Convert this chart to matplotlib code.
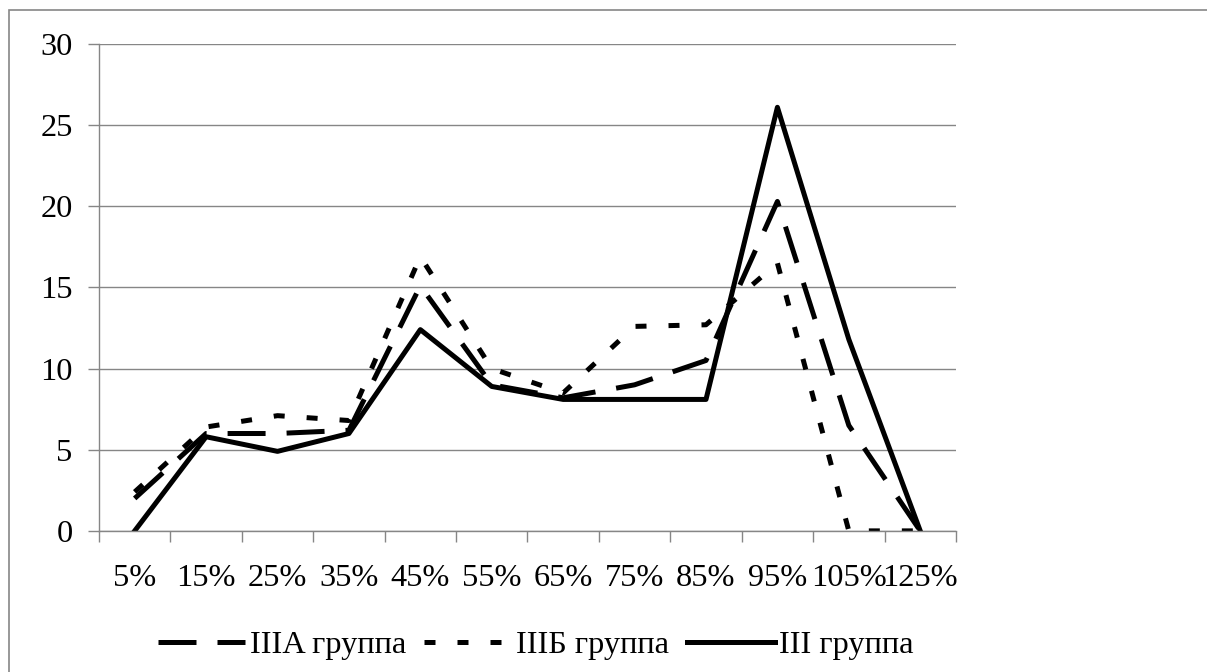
import matplotlib.pyplot as plt
from matplotlib.patches import Rectangle
from matplotlib.ticker import FixedLocator, NullFormatter

plt.rcParams['font.family'] = ['Liberation Serif', 'DejaVu Serif']

categories = ["5%", "15%", "25%", "35%", "45%", "55%", "65%", "75%", "85%", "95%", "105%", "125%"]
group_3a = [2.0, 6.0, 6.0, 6.2, 15.1, 9.0, 8.2, 9.0, 10.5, 20.3, 6.5, 0.0]
group_3b = [2.4, 6.4, 7.1, 6.8, 16.9, 10.0, 8.5, 12.6, 12.7, 16.5, 0.0, 0.0]
group_3 = [0.0, 5.8, 4.9, 6.0, 12.4, 8.9, 8.1, 8.1, 8.1, 26.1, 11.8, 0.0]
labels = ["IIIA группа", "IIIБ группа", "III группа"]

grey = "#868686"
fs = 23.3

fig = plt.figure(figsize=(12.07, 6.72), dpi=100)
ax = fig.add_axes([0.082, 0.210, 0.710, 0.7245])

x = list(range(len(categories)))
lw = 3.6
ax.plot(x, group_3a, color="black", linewidth=lw, dashes=(7.6, 4.2), label=labels[0])
ax.plot(x, group_3b, color="black", linewidth=lw, dashes=(2.2, 4.4), label=labels[1])
ax.plot(x, group_3, color="black", linewidth=lw, label=labels[2])

ax.set_xlim(-0.5, len(categories) - 0.5)
ax.set_ylim(0, 30)
ax.set_yticks(range(0, 31, 5))
ax.yaxis.grid(True, color=grey, linewidth=1.0)
ax.set_axisbelow(True)

# category boundaries carry the tick marks, labels sit at the centres
ax.xaxis.set_major_locator(FixedLocator([i - 0.5 for i in range(len(categories) + 1)]))
ax.xaxis.set_major_formatter(NullFormatter())
ax.xaxis.set_minor_locator(FixedLocator(x))
ax.set_xticklabels(categories, minor=True)
ax.tick_params(axis="x", which="major", direction="out", length=8, color=grey, width=1)
ax.tick_params(axis="x", which="minor", length=0, pad=24, labelsize=fs)
ax.tick_params(axis="y", direction="out", length=8, color=grey, width=1, pad=11, labelsize=fs)

for s in ["top", "right"]:
    ax.spines[s].set_visible(False)
for s in ["left", "bottom"]:
    ax.spines[s].set_color(grey)
    ax.spines[s].set_linewidth(1.0)

fig.legend(loc="center", bbox_to_anchor=(0.444, 0.040), ncol=3, frameon=False,
           fontsize=fs, handlelength=2.7, handletextpad=0.15, columnspacing=0.55,
           borderpad=0.2)

fig.patches.append(Rectangle((0.0075, -0.5), 1.5, 1.485, transform=fig.transFigure,
                             fill=False, edgecolor=grey, linewidth=1.2))

fig.savefig("out.png", dpi=100)
